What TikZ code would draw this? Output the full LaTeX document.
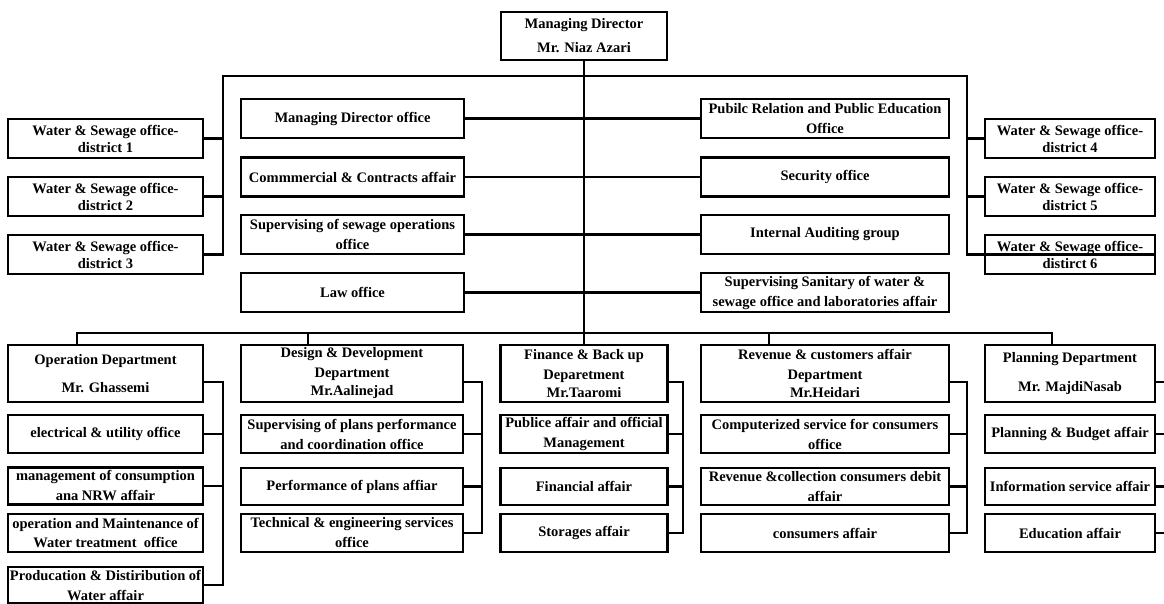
\documentclass[tikz,border=0pt]{standalone}
\usepackage{fontspec}
\setmainfont{Liberation Serif}

\tikzset{
  unitbox/.style 2 args={draw, line width=2.4pt, inner sep=0pt, align=center,
    minimum width=#1, minimum height=#2,
    font=\bfseries\fontsize{14.5}{20}\selectfont},
  link/.style={line width=2.4pt},
}

\begin{document}
\begin{tikzpicture}[x=1pt,y=-1pt]
  \useasboundingbox (0,0) rectangle (1164,604);

  %% head
  \node[unitbox={166}{48}] (md) at (584,36) {Managing Director\\[4pt]Mr. Niaz Azari};

  %% district offices
  \node[unitbox={195}{39}] (d1) at (105.5,138.5) {Water \& Sewage office-\\[-3pt]district 1};
  \node[unitbox={195}{39}] (d2) at (105.5,196.5) {Water \& Sewage office-\\[-3pt]district 2};
  \node[unitbox={195}{39}] (d3) at (105.5,254.5) {Water \& Sewage office-\\[-3pt]district 3};
  \node[unitbox={170}{39}] (d4) at (1070,138.5) {Water \& Sewage office-\\[-3pt]district 4};
  \node[unitbox={170}{39}] (d5) at (1070,196.5) {Water \& Sewage office-\\[-3pt]district 5};
  \node[unitbox={170}{39}] (d6) at (1070,254.5) {Water \& Sewage office-\\[-3pt]distirct 6};

  %% staff offices
  \node[unitbox={223}{39}] (mdo) at (352.5,118.5) {Managing Director office};
  \node[unitbox={223}{39}] (com) at (352.5,177) {Commmercial \& Contracts affair};
  \node[unitbox={223}{39}] (sup) at (352.5,234.5) {Supervising of sewage operations\\office};
  \node[unitbox={223}{39}] (law) at (352.5,292.5) {Law office};
  \node[unitbox={248}{39}] (pr) at (825,118.5) {Pubilc Relation and Public Education\\Office};
  \node[unitbox={248}{39}] (sec) at (825,177) {Security office};
  \node[unitbox={248}{39}] (aud) at (825,234.5) {Internal Auditing group};
  \node[unitbox={248}{39}] (san) at (825,292.5) {Supervising Sanitary of water \&\\sewage office and laboratories affair};

  %% departments
  \node[unitbox={195}{57}] (op) at (105.5,373.5) {Operation Department\\[8pt]Mr. Ghassemi};
  \node[unitbox={222}{57}] (ds) at (352,373.5) {Design \& Development\\Department\\[-2pt]Mr.Aalinejad};
  \node[unitbox={167}{57}] (fin) at (584,373.5) {Finance \& Back up\\Deparetment\\[-2pt]Mr.Taaromi};
  \node[unitbox={248}{57}] (rev) at (825,373.5) {Revenue \& customers affair\\Department\\[-2pt]Mr.Heidari};
  \node[unitbox={170}{57}] (pl) at (1070,373.5) {Planning Department\\[9pt]Mr. MajdiNasab};

  %% operation
  \node[unitbox={195}{38}] (op1) at (105.5,434) {electrical \& utility office};
  \node[unitbox={195}{37}] (op2) at (105.5,486) {management of consumption\\ana NRW affair};
  \node[unitbox={195}{38}] (op3) at (105.5,533) {operation and Maintenance of\\Water treatment~~office};
  \node[unitbox={195}{36}] (op4) at (105.5,585) {Producation \& Distiribution of\\Water affair};
  %% design
  \node[unitbox={222}{38}] (ds1) at (352,434) {Supervising of plans performance\\and coordination office};
  \node[unitbox={222}{37}] (ds2) at (352,486.5) {Performance of plans affiar};
  \node[unitbox={222}{38}] (ds3) at (352,533) {Technical \& engineering services\\office};
  %% finance
  \node[unitbox={167}{38}] (fin1) at (584,434) {Publice affair and official\\Management};
  \node[unitbox={167}{37}] (fin2) at (584,486.5) {Financial affair};
  \node[unitbox={167}{38}] (fin3) at (584,533) {Storages affair};
  %% revenue
  \node[unitbox={248}{38}] (rev1) at (825,434) {Computerized service for consumers\\office};
  \node[unitbox={248}{37}] (rev2) at (825,486.5) {Revenue \&collection consumers debit\\affair};
  \node[unitbox={248}{38}] (rev3) at (825,533) {consumers affair};
  %% planning
  \node[unitbox={170}{38}] (pl1) at (1070,434) {Planning \& Budget affair};
  \node[unitbox={170}{37}] (pl2) at (1070,486.5) {Information service affair};
  \node[unitbox={170}{38}] (pl3) at (1070,533) {Education affair};

  %% trunk and upper bus
  \coordinate (ul) at (223,76);
  \coordinate (ur) at (967,76);
  \draw[link] (md.south) -- (fin.north);
  \draw[link] (d3.east) -| (ul) -- (ur) |- (d6.east);
  \draw[link] (d1.east) -- (d1.east -| ul) (d2.east) -- (d2.east -| ul);
  \draw[link] (d4.west) -- (d4.west -| ur) (d5.west) -- (d5.west -| ur);
  \draw[link] (mdo.east) -- (pr.west) (com.east) -- (sec.west)
              (sup.east) -- (aud.west) (law.east) -- (san.west);

  %% lower bus
  \coordinate (ll) at (77,333);
  \coordinate (lr) at (1052,333);
  \coordinate (dsdrop) at (308,333);
  \coordinate (revdrop) at (769,333);
  \draw[link] (op.north -| ll) -- (ll) -- (lr) -- (pl.north -| lr);
  \draw[link] (dsdrop) -- (ds.north -| dsdrop) (revdrop) -- (rev.north -| revdrop);

  %% side bars of the departments
  \coordinate (opbar) at (223,382);
  \coordinate (dsbar) at (482,382);
  \coordinate (finbar) at (683,382);
  \coordinate (revbar) at (967,382);
  \coordinate (plbar) at (1166,382);
  \draw[link] ([yshift=-8.5pt]op.east) -- (opbar) -- (opbar |- op4.east) -- (op4.east);
  \draw[link] (op1.east) -- (op1.east -| opbar) (op2.east) -- (op2.east -| opbar);
  \draw[link] ([yshift=-8.5pt]ds.east) -- (dsbar) -- (dsbar |- ds3.east) -- (ds3.east);
  \draw[link] (ds1.east) -- (ds1.east -| dsbar) (ds2.east) -- (ds2.east -| dsbar);
  \draw[link] ([yshift=-8.5pt]fin.east) -- (finbar) -- (finbar |- fin3.east) -- (fin3.east);
  \draw[link] (fin1.east) -- (fin1.east -| finbar) (fin2.east) -- (fin2.east -| finbar);
  \draw[link] ([yshift=-8.5pt]rev.east) -- (revbar) -- (revbar |- rev3.east) -- (rev3.east);
  \draw[link] (rev1.east) -- (rev1.east -| revbar) (rev2.east) -- (rev2.east -| revbar);
  \draw[link] ([yshift=-8.5pt]pl.east) -- (plbar) (pl1.east) -- (pl1.east -| plbar)
              (pl2.east) -- (pl2.east -| plbar) (pl3.east) -- (pl3.east -| plbar);
\end{tikzpicture}
\end{document}
